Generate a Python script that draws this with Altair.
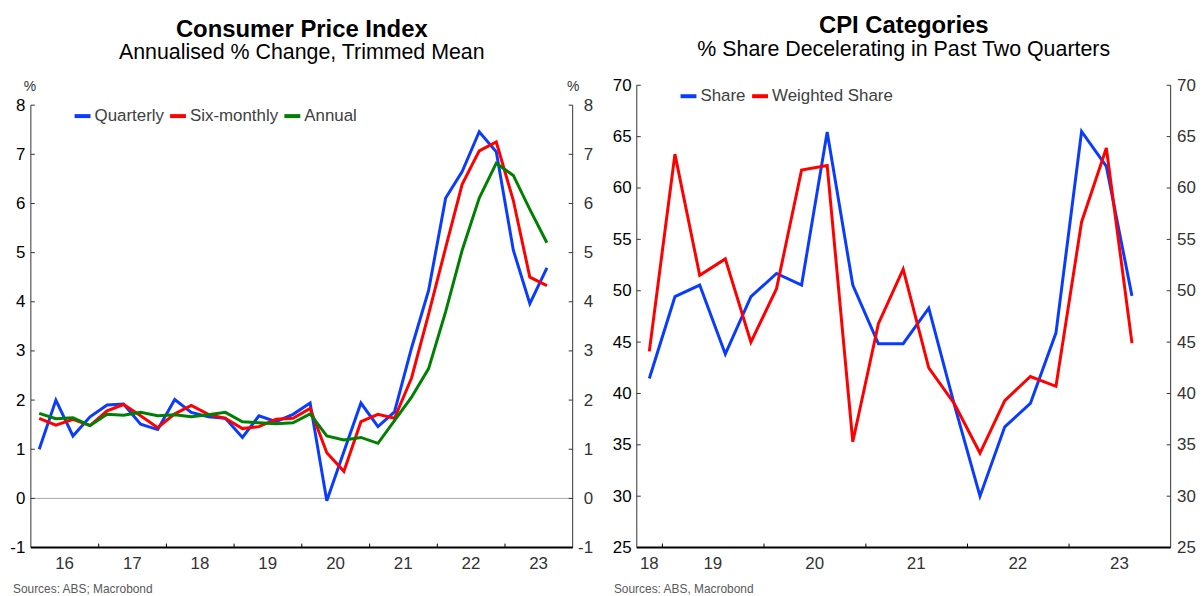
import altair as alt
import pandas as pd

FONT = "Liberation Sans"
BLUE = "#0a3cff"
RED = "#ff0000"
GREEN = "#008000"

# ---------------- data: left panel (2016Q1 .. 2023Q3) ----------------
cpi_years = list(range(2016, 2024))
quarter_mid = ["02-15", "05-15", "08-15", "11-15"]
cpi_dates = [f"{y}-{m}" for y in cpi_years for m in quarter_mid][:31]

quarterly = [1.00, 2.00, 1.27, 1.66,
             1.90, 1.92, 1.51, 1.40,
             2.01, 1.75, 1.66, 1.63,
             1.24, 1.68, 1.56, 1.71,
             1.94, -0.05, 0.95, 1.94,
             1.46, 1.76, 3.06, 4.23,
             6.11, 6.65, 7.46, 7.05,
             5.05, 3.96, 4.69]
six_monthly = [1.63, 1.49, 1.61, 1.48,
               1.78, 1.91, 1.68, 1.44,
               1.72, 1.89, 1.71, 1.63,
               1.42, 1.46, 1.61, 1.63,
               1.83, 0.93, 0.55, 1.56,
               1.71, 1.63, 2.45, 3.75,
               5.10, 6.39, 7.07, 7.25,
               6.06, 4.50, 4.33]
annual = [1.73, 1.62, 1.64, 1.48,
          1.71, 1.69, 1.75, 1.68,
          1.70, 1.66, 1.70, 1.75,
          1.56, 1.54, 1.52, 1.54,
          1.72, 1.27, 1.19, 1.24,
          1.12, 1.58, 2.06, 2.64,
          3.80, 5.05, 6.11, 6.82,
          6.57, 5.88, 5.20]
cpi_series = ["Quarterly", "Six-monthly", "Annual"]
cpi_colors = [BLUE, RED, GREEN]
cpi_ticks = [-1, 0, 1, 2, 3, 4, 5, 6, 7, 8]
cpi_year_labels = ["16", "17", "18", "19", "20", "21", "22", "23"]
cpi_label_dates = [f"{y}-07-01" for y in cpi_years]
cpi_year_starts = [f"{y}-01-01" for y in range(2017, 2024)]

# ---------------- data: right panel (2018Q4 .. 2023Q3) ----------------
cat_dates = ["2018-11-15"] + [f"{y}-{m}" for y in range(2019, 2024) for m in quarter_mid][:19]
share = [41.45, 49.42, 50.55, 43.84, 49.42, 51.68, 50.55, 65.45, 50.55, 44.84,
         44.84, 48.30, 38.90, 30.00, 36.75, 39.03, 45.90, 65.50, 62.10, 49.50]
weighted_share = [44.1, 63.3, 51.5, 53.1, 45.0, 50.2, 61.75, 62.2, 35.3, 46.8,
                  52.1, 42.5, 39.0, 34.2, 39.3, 41.65, 40.7, 56.7, 63.9, 44.9]
cat_series = ["Share", "Weighted Share"]
cat_colors = [BLUE, RED]
cat_ticks = [25, 30, 35, 40, 45, 50, 55, 60, 65, 70]
cat_year_labels = ["18", "19", "20", "21", "22", "23"]
cat_label_dates = ["2018-11-15", "2019-07-01", "2020-07-01", "2021-07-01", "2022-07-01", "2023-07-01"]
cat_year_starts = [f"{y}-01-01" for y in range(2019, 2024)]

H = 465


def build_panel(dates, series_values, series_names, colors, ticks, y_domain, axis_top,
                x_start, x_end, label_dates, year_labels, year_starts, W, title, subtitle,
                left_pad, right_pad, right_align, legend_y, percent, source, source_x):
    rows = []
    for name, vals in zip(series_names, series_values):
        for d, v in zip(dates, vals):
            rows.append({"date": d, "value": v, "series": name})
    df = pd.DataFrame(rows)

    xs = alt.Scale(type="utc", domain=[alt.DateTime(year=x_start[0], month=x_start[1], date=x_start[2], utc=True),
                                       alt.DateTime(year=x_end[0], month=x_end[1], date=x_end[2], utc=True)])

    def ys():
        return alt.Scale(domain=y_domain, nice=False, zero=False)

    tick_df = pd.DataFrame({"v": ticks})
    base_axis = dict(domain=False, ticks=False, tickSize=0, grid=False, title=None,
                     labelFont=FONT, labelFontSize=17, values=ticks,
                     labelExpr="'' + datum.value",
                     labelFlush=False, labelOverlap=False, labelBaseline="middle")

    lines = alt.Chart(df).mark_line(strokeWidth=3, clip=True).encode(
        x=alt.X("date:T", scale=xs, axis=None),
        y=alt.Y("value:Q", scale=ys(),
                axis=alt.Axis(orient="left", labelAlign="right", labelPadding=left_pad,
                              labelColor="#000000", **base_axis)),
        color=alt.Color("series:N", sort=series_names,
                        scale=alt.Scale(domain=series_names, range=colors),
                        legend=alt.Legend(orient="none", legendX=42, legendY=legend_y,
                                          direction="horizontal", title=None,
                                          symbolType="stroke", symbolSize=256, symbolStrokeWidth=4,
                                          labelFont=FONT, labelFontSize=17, labelColor="#404040",
                                          columnPadding=-2, labelOffset=2, padding=0)),
    )

    right_ticks = alt.Chart(tick_df).mark_rule(color="#333333", strokeWidth=1).encode(
        y=alt.Y("v:Q", scale=ys(),
                axis=alt.Axis(orient="right", labelAlign=right_align, labelPadding=right_pad,
                              labelColor="#333333", **base_axis)),
        x=alt.value(W - 4), x2=alt.value(W),
    )
    left_ticks = alt.Chart(tick_df).mark_rule(color="#333333", strokeWidth=1).encode(
        y=alt.Y("v:Q", scale=ys(), axis=None),
        x=alt.value(0), x2=alt.value(4),
    )
    span_df = pd.DataFrame({"lo": [ticks[0]], "hi": [axis_top]})
    left_dom = alt.Chart(span_df).mark_rule(color="#333333", strokeWidth=1).encode(
        y=alt.Y("lo:Q", scale=ys(), axis=None), y2="hi:Q", x=alt.value(0))
    right_dom = alt.Chart(span_df).mark_rule(color="#333333", strokeWidth=1).encode(
        y=alt.Y("lo:Q", scale=ys(), axis=None), y2="hi:Q", x=alt.value(W))
    bottom_dom = alt.Chart(span_df).mark_rule(color="#000000", strokeWidth=2).encode(
        y=alt.Y("lo:Q", scale=ys(), axis=None), x=alt.value(0), x2=alt.value(W))

    xt_df = pd.DataFrame({"d": year_starts})
    x_ticks = alt.Chart(xt_df).mark_rule(color="#000000", strokeWidth=1).encode(
        x=alt.X("d:T", scale=xs, axis=None), y=alt.value(H - 4), y2=alt.value(H))
    xl_df = pd.DataFrame({"d": label_dates, "lab": year_labels})
    x_labels = alt.Chart(xl_df).mark_text(font=FONT, fontSize=17, color="#333333",
                                          baseline="middle", align="center").encode(
        x=alt.X("d:T", scale=xs, axis=None), y=alt.value(H + 16.5), text="lab:N")

    src = alt.Chart(pd.DataFrame({"t": [source]})).mark_text(
        font=FONT, fontSize=12, color="#595959", align="left", baseline="top").encode(
        x=alt.value(source_x), y=alt.value(H + 37), text="t:N")

    layers = []
    if percent:
        zero = alt.Chart(pd.DataFrame({"v": [0]})).mark_rule(color="#a6a6a6", strokeWidth=1).encode(
            y=alt.Y("v:Q", scale=ys(), axis=None))
        layers.append(zero)
    layers += [lines, right_ticks, left_ticks, left_dom, right_dom, bottom_dom, x_ticks, x_labels, src]
    if percent:
        pct_l = alt.Chart(pd.DataFrame({"t": ["%"]})).mark_text(
            font=FONT, fontSize=14, color="#333333", baseline="middle", align="center").encode(
            x=alt.value(-1), y=alt.value(1.5), text="t:N")
        pct_r = alt.Chart(pd.DataFrame({"t": ["%"]})).mark_text(
            font=FONT, fontSize=14, color="#333333", baseline="middle", align="center").encode(
            x=alt.value(W + 0.5), y=alt.value(1.5), text="t:N")
        layers += [pct_l, pct_r]

    return alt.layer(*layers).resolve_scale(y="independent").resolve_axis(y="independent").properties(
        width=W, height=H,
        title=alt.TitleParams(text=title, subtitle=subtitle, font=FONT, fontSize=24, fontWeight="bold",
                              subtitleFont=FONT, subtitleFontSize=21.5, color="#000000",
                              subtitleColor="#000000", anchor="middle", frame="group",
                              offset=16, subtitlePadding=1),
    )


left = build_panel(cpi_dates, [quarterly, six_monthly, annual], cpi_series, cpi_colors, cpi_ticks,
                   [-1, 8.4045], 8, (2016, 1, 1), (2024, 1, 1), cpi_label_dates, cpi_year_labels,
                   cpi_year_starts, 545, "Consumer Price Index", "Annualised % Change, Trimmed Mean",
                   6, 20, "right", 21, True, "Sources: ABS; Macrobond", -18)

right = build_panel(cat_dates, [share, weighted_share], cat_series, cat_colors, cat_ticks,
                    [25, 70], 70, (2018, 10, 1), (2024, 1, 1), cat_label_dates, cat_year_labels,
                    cat_year_starts, 537, "CPI Categories", "% Share Decelerating in Past Two Quarters",
                    5.7, 6, "left", 1, False, "Sources: ABS, Macrobond", -23)

chart = alt.hconcat(left, right, spacing=19.5).resolve_scale(color="independent").resolve_legend(
    color="independent").configure_view(stroke=None).properties(
    padding={"left": 1, "top": 4, "right": 0, "bottom": 0})

chart.save("out.html", embed_options={"renderer": "svg", "actions": False})
